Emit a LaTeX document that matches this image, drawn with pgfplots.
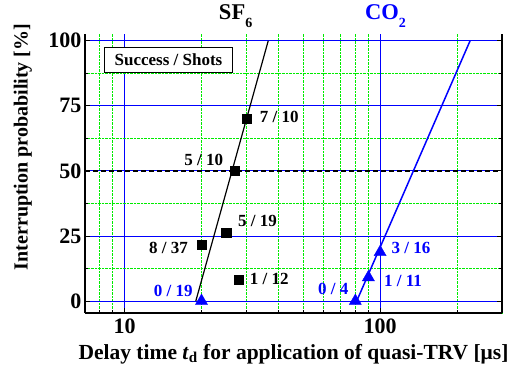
\documentclass[border=0pt]{standalone}
\usepackage{fontspec}
\setmainfont{Liberation Serif}
\usepackage{pgfplots}
\pgfplotsset{compat=1.18}

\definecolor{gridgreen}{RGB}{0,235,0}
\definecolor{pureblue}{RGB}{0,0,255}
% low-set subscript for the gas names
\newcommand{\gassub}[1]{\raisebox{-0.38em}{\fontsize{14bp}{14bp}\selectfont #1}}

\begin{document}
\begin{tikzpicture}
\begin{axis}[
  scale only axis,
  width=417bp, height=279bp,
  xmode=log,
  xmin=7, xmax=300,
  ymin=-4.6, ymax=102.6,
  xtick={10,100}, xticklabels={10,100},
  minor xtick={8,9,20,30,40,50,60,70,80,90,200,300},
  ytick={0,25,50,75,100},
  minor ytick={12.5,37.5,62.5,87.5},
  axis x line*=bottom,
  axis y line*=box,
  axis line style={black, line width=1.2bp},
  tick align=inside,
  major tick length=5bp,
  minor tick length=3.5bp,
  tick style={black, line width=0.8bp},
  grid=both,
  major grid style={pureblue, line width=0.9bp},
  minor grid style={gridgreen, densely dotted, line width=0.8bp},
  /pgf/number format/assume math mode=true,
  ticklabel style={font=\bfseries\fontsize{22bp}{22bp}\selectfont},
  xticklabel style={yshift=-2bp},
  xlabel={Delay time \textit{t}\textsubscript{d} for application of quasi-TRV [μs]},
  ylabel={Interruption probability [\%]},
  xlabel style={font=\bfseries\fontsize{21.5bp}{22bp}\selectfont,
                at={(rel axis cs:0.5,-0.147)}, anchor=center},
  ylabel style={font=\bfseries\fontsize{20bp}{20bp}\selectfont,
                at={(rel axis cs:-0.149,0.595)}, anchor=center},
  clip=false,
]
% reference level at 50 %
\addplot[black, dash pattern=on 5bp off 3bp, line width=1.3bp] coordinates {(7,50) (300,50)};

% fitted lines
\addplot[black, line width=1.2bp] coordinates {(19,0) (36.5,100)};
\addplot[pureblue, line width=1.5bp] coordinates {(81,0) (225,100)};

% SF6 measurements
\addplot[only marks, mark=square*, mark size=4.6bp, black]
  coordinates {(20,21.6) (25,26.3) (28,8.33) (27,50) (30,70)};
% CO2 measurements
\addplot[only marks, mark=triangle*, mark size=7bp, pureblue]
  coordinates {(20,0) (80,0) (90,9.09) (100,18.75)};

\begin{scope}[every node/.style={font=\bfseries\fontsize{17bp}{17bp}\selectfont, inner sep=0pt}]
  \node[black] at (axis cs:14.85,20.4) {8 / 37};
  \node[black] at (axis cs:33.1,30.8) {5 / 19};
  \node[black] at (axis cs:36.8,8.5) {1 / 12};
  \node[black] at (axis cs:20.4,54.2) {5 / 10};
  \node[black] at (axis cs:40.3,70.8) {7 / 10};
  \node[pureblue] at (axis cs:15.5,3.8) {0 / 19};
  \node[pureblue] at (axis cs:65.5,4.6) {0 / 4};
  \node[pureblue] at (axis cs:123,7.7) {1 / 11};
  \node[pureblue] at (axis cs:132,20.4) {3 / 16};
\end{scope}

\node[draw=black, fill=white, line width=0.8bp, minimum width=128bp, minimum height=25bp,
      inner sep=0pt, font=\bfseries\fontsize{17bp}{17bp}\selectfont]
  at (axis cs:14.85,92.7) {Success / Shots};

\node[font=\bfseries\fontsize{22.5bp}{22bp}\selectfont, black] at (axis cs:27.2,109.5) {SF\gassub{6}};
\node[font=\bfseries\fontsize{22.5bp}{22bp}\selectfont, pureblue] at (axis cs:105,109.5) {CO\gassub{2}};

\coordinate (BL) at (rel axis cs:0,0);
\coordinate (TR) at (rel axis cs:1,1);
\end{axis}
\pgfresetboundingbox
\path ([shift={(-85bp,-63bp)}]BL) rectangle ([shift={(18bp,34bp)}]TR);
\end{tikzpicture}
\end{document}
